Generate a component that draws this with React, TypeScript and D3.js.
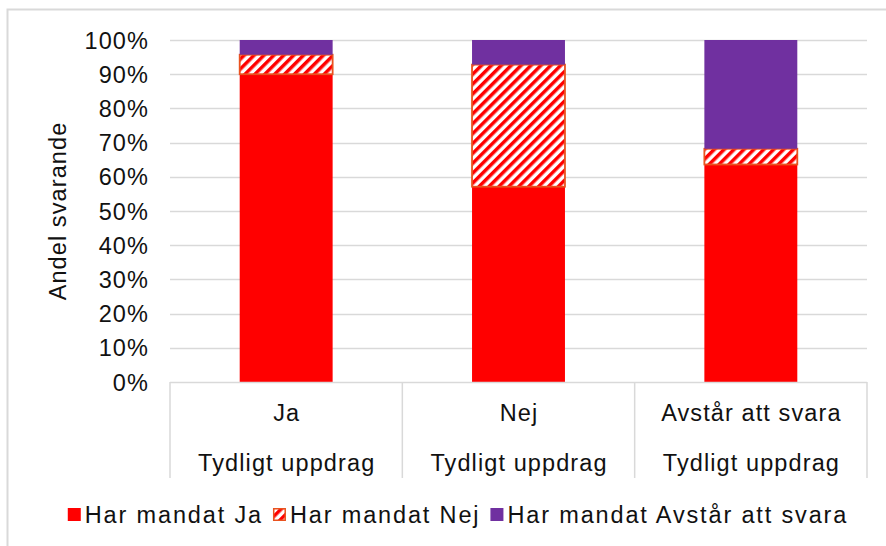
import React, { useEffect, useRef } from "react";
import * as d3 from "d3";

const categories = ["Ja", "Nej", "Avstår att svara"];
const groupLabel = "Tydligt uppdrag";
const seriesNames = ["Har mandat Ja", "Har mandat Nej", "Har mandat Avstår att svara"];
const harMandatJa = [0.9, 0.571, 0.636];
const harMandatNej = [0.057, 0.357, 0.046];
const harMandatAvstar = [0.043, 0.072, 0.318];
const yTicks = [0, 0.1, 0.2, 0.3, 0.4, 0.5, 0.6, 0.7, 0.8, 0.9, 1.0];
const yTitle = "Andel svarande";

const W = 886;
const H = 546;
const FONT = "'Liberation Sans', Arial, sans-serif";
const FS = 23.5;
const LS = 1.1;
const LEG_LS = 1.85;
const RED = "#ff0000";
const PURPLE = "#7030a0";
const HATCH_EDGE = "#e9521f";
const GRID = "#d9d9d9";

export default function App() {
  const ref = useRef<SVGSVGElement>(null);

  useEffect(() => {
    const svg = d3.select(ref.current);
    svg.selectAll("*").remove();

    const defs = svg.append("defs");
    const pat = defs
      .append("pattern")
      .attr("id", "hatch")
      .attr("patternUnits", "userSpaceOnUse")
      .attr("width", 7)
      .attr("height", 7)
      .attr("patternTransform", "rotate(45)");
    pat.append("rect").attr("width", 7).attr("height", 7).attr("fill", "#fff");
    pat.append("rect").attr("width", 3.5).attr("height", 7).attr("fill", RED);

    const left = 170, right = 867, top = 40, bottom = 382;
    const x = d3.scaleBand<string>().domain(categories).range([left, right]).paddingInner(0.6).paddingOuter(0.3);
    const xOuter = d3.scaleBand<string>().domain(categories).range([left, right]);
    const y = d3.scaleLinear().domain([0, 1]).range([bottom, top]);

    // chart border
    svg.append("rect").attr("x", 7.5).attr("y", 9.5).attr("width", 920).attr("height", 560)
      .attr("fill", "none").attr("stroke", GRID).attr("stroke-width", 2);

    // gridlines
    svg.append("g").selectAll("line").data(yTicks.filter(d => d > 0)).join("line")
      .attr("x1", left).attr("x2", right)
      .attr("y1", d => Math.round(y(d)) + 0.5).attr("y2", d => Math.round(y(d)) + 0.5)
      .attr("stroke", GRID).attr("stroke-width", 1.3);

    const txt = (sel: any, ls: number = LS) =>
      sel.attr("font-family", FONT).attr("font-size", FS).attr("letter-spacing", ls).attr("fill", "#111");

    // tick labels
    svg.append("g").selectAll("text").data(yTicks).join("text")
      .attr("x", 149).attr("y", d => y(d) + 8.5)
      .attr("text-anchor", "end")
      .call(txt)
      .text(d => d3.format(".0%")(d));

    // y title
    svg.append("text")
      .attr("transform", `translate(${66},${(top + bottom) / 2}) rotate(-90)`)
      .attr("text-anchor", "middle")
      .call(txt)
      .text(yTitle);

    // stacked bars
    const rows = categories.map((c, i) => ({ cat: c, ja: harMandatJa[i], nej: harMandatNej[i], avs: harMandatAvstar[i] }));
    const stack = d3.stack<any>().keys(["ja", "nej", "avs"])(rows);
    const fills = [RED, "url(#hatch)", PURPLE];
    stack.forEach((layer, li) => {
      svg.append("g").selectAll("rect").data(layer).join("rect")
        .attr("x", (d: any) => x(d.data.cat)!)
        .attr("width", x.bandwidth())
        .attr("y", (d: any) => y(d[1]))
        .attr("height", (d: any) => y(d[0]) - y(d[1]))
        .attr("fill", fills[li])
        .attr("stroke", li === 1 ? HATCH_EDGE : "none")
        .attr("stroke-width", li === 1 ? 1.8 : 0);
    });

    // x axis box
    const axisBottom = 478;
    svg.append("line").attr("x1", left).attr("x2", right).attr("y1", bottom + 0.5).attr("y2", bottom + 0.5)
      .attr("stroke", GRID).attr("stroke-width", 1.5);
    const bounds = [...categories.map(c => xOuter(c)!), right];
    svg.append("g").selectAll("line").data(bounds).join("line")
      .attr("x1", d => d).attr("x2", d => d)
      .attr("y1", bottom).attr("y2", axisBottom)
      .attr("stroke", GRID).attr("stroke-width", 1.5);

    const cx = (c: string) => xOuter(c)! + xOuter.bandwidth() / 2;
    svg.append("g").selectAll("text").data(categories).join("text")
      .attr("x", d => cx(d) + LS / 2).attr("y", 421)
      .attr("text-anchor", "middle")
      .call(txt)
      .text(d => d);
    svg.append("g").selectAll("text").data(categories).join("text")
      .attr("x", d => cx(d) + LS / 2).attr("y", 471)
      .attr("text-anchor", "middle")
      .call(txt)
      .text(groupLabel);

    // legend
    const lg = svg.append("g");
    const sq = 13, gapSq = 4, gapItem = 10;
    const items: { g: any; w: number }[] = [];
    seriesNames.forEach((name, i) => {
      const g = lg.append("g");
      g.append("rect").attr("x", 0.75).attr("y", 508.75).attr("width", sq - 1.5).attr("height", sq - 1.5)
        .attr("fill", fills[i])
        .attr("stroke", i === 1 ? HATCH_EDGE : fills[i])
        .attr("stroke-width", 1.5);
      const t = g.append("text").attr("x", sq + gapSq).attr("y", 522.5)
        .call(txt, LEG_LS)
        .text(name);
      const tw = (t.node() as SVGTextElement).getComputedTextLength();
      items.push({ g, w: sq + gapSq + tw });
    });
    const total = items.reduce((s, it) => s + it.w, 0) + gapItem * (items.length - 1);
    let pos = 458 - total / 2;
    items.forEach(it => {
      it.g.attr("transform", `translate(${pos},0)`);
      pos += it.w + gapItem;
    });
  }, []);

  return (
    <svg ref={ref} width={W} height={H} style={{ position: "absolute", left: 0, top: 0, background: "#fff" }} />
  );
}
